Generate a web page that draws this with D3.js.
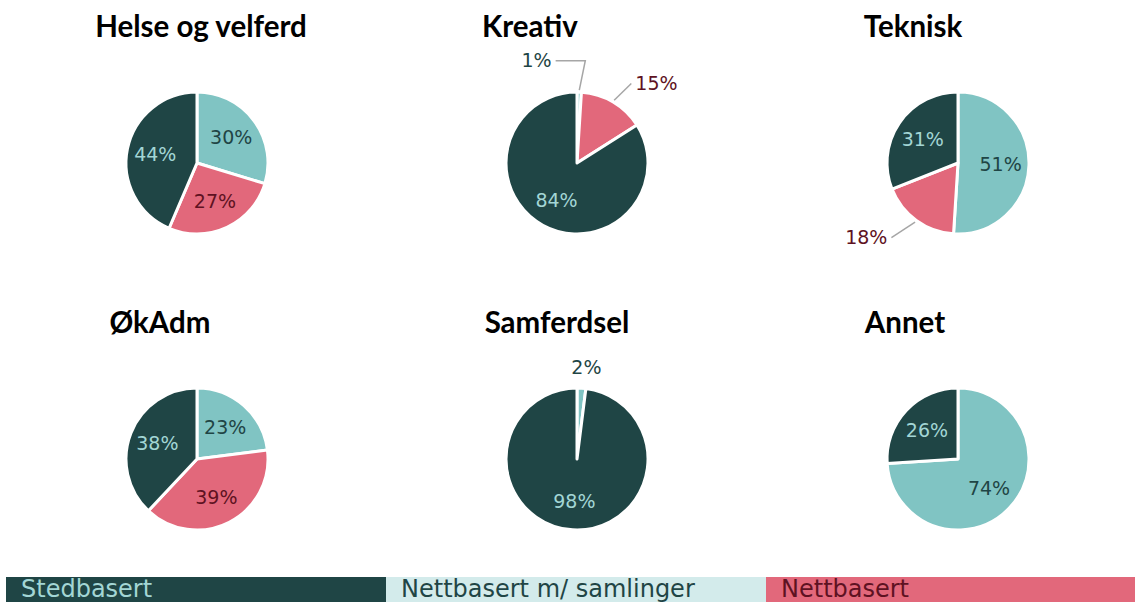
<!DOCTYPE html>
<html>
<head>
<meta charset="utf-8">
<script src="https://cdn.jsdelivr.net/npm/d3@7"></script>
<style>
  body { margin: 0; background: #fff; }
  svg { display: block; }
</style>
</head>
<body>
<div id="chart"></div>
<script>
var w = 1135;
var h = 602;

// data
var series = ["Nettbasert m/ samlinger", "Nettbasert", "Stedbasert"];
var charts = ["Helse og velferd", "Kreativ", "Teknisk", "ØkAdm", "Samferdsel", "Annet"];
var samlinger = [30, 1, 51, 23, 2, 74];
var nettbasert = [27, 15, 18, 39, 0, 0];
var stedbasert = [44, 84, 31, 38, 98, 26];
var legendOrder = ["Stedbasert", "Nettbasert m/ samlinger", "Nettbasert"];

// layout
var colX = [197, 577, 958];
var rowY = [163, 459];
var radius = 71;
var titleX = [201, 530, 913, 160, 557, 905];
var titleY = [37, 333];

var fill = d3.scaleOrdinal().domain(series).range(["#80C4C3", "#E2687B", "#1F4545"]);
var labelColor = d3.scaleOrdinal().domain(series).range(["#1F4545", "#5E1222", "#A3D6D5"]);
var outsideColor = d3.scaleOrdinal().domain(series).range(["#1F4545", "#5E1222", "#1F4545"]);
var legendFill = d3.scaleOrdinal().domain(series).range(["#D3EBEB", "#E2687B", "#1F4545"]);
var legendText = d3.scaleOrdinal().domain(series).range(["#1F4545", "#5E1222", "#A3D6D5"]);

var svg = d3.select("#chart").append("svg").attr("width", w).attr("height", h);

var pie = d3.pie().sort(null).value(function (d) { return d.value; });
var arc = d3.arc().innerRadius(0).outerRadius(radius);
var labelArc = d3.arc().innerRadius(radius * 0.6).outerRadius(radius * 0.6);

charts.forEach(function (name, i) {
  var cx = colX[i % 3];
  var cy = rowY[Math.floor(i / 3)];
  var values = [samlinger[i], nettbasert[i], stedbasert[i]];
  var data = series.map(function (s, j) { return { key: s, value: values[j] }; });
  var total = d3.sum(values);
  var arcs = pie(data);

  svg.append("text")
    .attr("x", titleX[i])
    .attr("y", titleY[Math.floor(i / 3)])
    .attr("text-anchor", "middle")
    .attr("font-family", "Lato, 'Open Sans', sans-serif")
    .attr("font-weight", "bold")
    .attr("font-size", "29.5px")
    .attr("fill", "#000")
    .text(name);

  var g = svg.append("g").attr("transform", "translate(" + cx + "," + cy + ")");

  g.selectAll("path")
    .data(arcs.filter(function (d) { return d.value > 0; }))
    .enter()
    .append("path")
    .attr("d", arc)
    .attr("fill", function (d) { return fill(d.data.key); })
    .attr("stroke", "#fff")
    .attr("stroke-width", 3)
    .attr("stroke-linejoin", "round");

  // labels: big slices inside, small ones outside with a leader
  var outside = [];
  arcs.forEach(function (d) {
    if (d.value <= 0) return;
    var share = d.value / total;
    var txt = d.value + "%";
    if (share >= 0.2) {
      var c = labelArc.centroid(d);
      g.append("text")
        .attr("x", c[0])
        .attr("y", c[1])
        .attr("dy", "0.35em")
        .attr("text-anchor", "middle")
        .attr("font-family", "'DejaVu Sans', Verdana, sans-serif")
        .attr("font-size", "19px")
        .attr("fill", labelColor(d.data.key))
        .text(txt);
    } else {
      var a = (d.startAngle + d.endAngle) / 2;
      var t = g.append("text")
        .attr("text-anchor", "middle")
        .attr("font-family", "'DejaVu Sans', Verdana, sans-serif")
        .attr("font-size", "19px")
        .attr("fill", outsideColor(d.data.key))
        .text(txt);
      var tw = t.node().getComputedTextLength();
      var lx = Math.sin(a) * radius * 1.9 + Math.sin(a) * tw / 2;
      var ly = -Math.cos(a) * radius * 1.3;
      outside.push({ a: a, t: t, w: tw, x: lx, y: ly });
    }
  });

  // push colliding outside labels apart
  for (var k = 0; k < outside.length - 1; k++) {
    var p = outside[k], q = outside[k + 1];
    if (Math.abs(q.x - p.x) < 80 && Math.abs(q.y - p.y) < 25) {
      p.x -= p.w + 15;
      p.y -= 10;
    }
  }

  outside.forEach(function (o) {
    o.t.attr("x", o.x).attr("y", o.y).attr("dy", "0.35em");
    var ex = Math.sin(o.a) * (radius + 2);
    var ey = -Math.cos(o.a) * (radius + 2);
    var bx = Math.max(0, Math.abs(ex - o.x) - o.w / 2);
    // leader only when the label sits off to the side of its slice
    if (bx > 8) {
      var side = o.x < ex ? 1 : -1;
      var tx = o.x + side * (o.w / 2 + 4);
      var mid = Math.abs(tx - ex) > Math.abs(o.y - ey) ? [ex, ey] : [ex + side * 6, o.y];
      g.insert("path", "text")
        .attr("d", d3.line()([[ex, ey], mid, [tx, o.y]]))
        .attr("fill", "none")
        .attr("stroke", "#A6A6A6")
        .attr("stroke-width", 1.5);
    }
  });
});

// legend
var legendX = d3.scaleBand().domain(legendOrder).range([6, 1146]).paddingInner(0);
var legend = svg.selectAll(".legend")
  .data(legendOrder)
  .enter()
  .append("g")
  .attr("class", "legend")
  .attr("transform", function (d) { return "translate(" + legendX(d) + ",577)"; });

legend.append("rect")
  .attr("width", legendX.bandwidth())
  .attr("height", 30)
  .attr("fill", function (d) { return legendFill(d); });

legend.append("text")
  .attr("x", 15)
  .attr("y", 20)
  .attr("font-family", "'DejaVu Sans', Verdana, sans-serif")
  .attr("font-size", "24px")
  .attr("fill", function (d) { return legendText(d); })
  .text(function (d) { return d; });
</script>
</body>
</html>
